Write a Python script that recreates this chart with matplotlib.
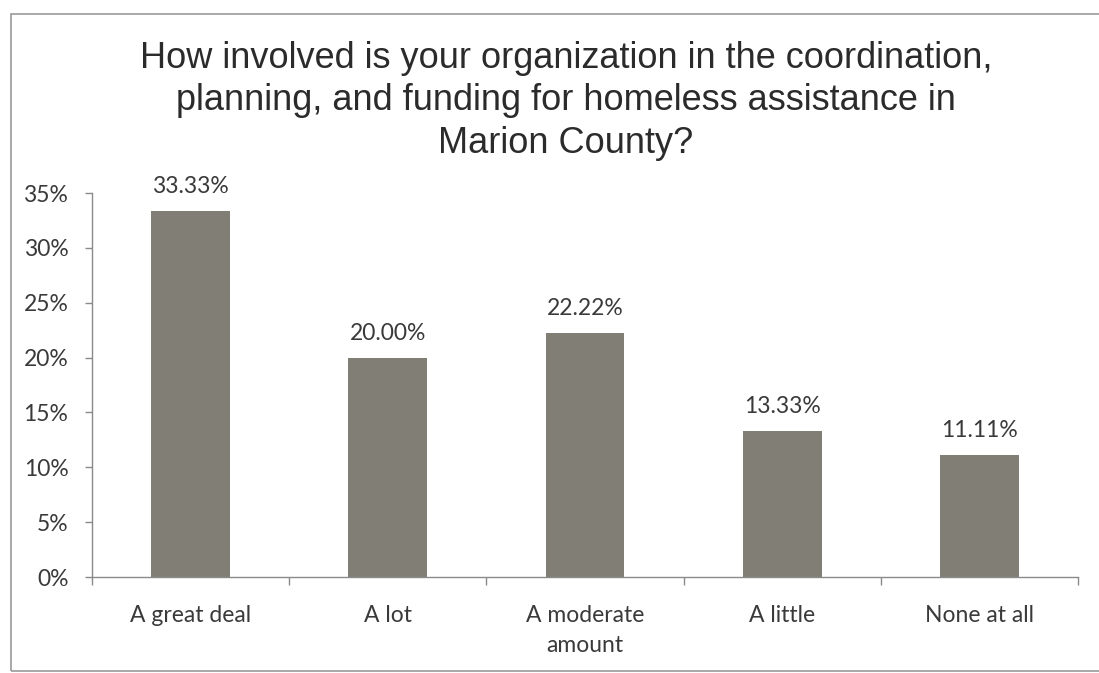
import matplotlib
matplotlib.use("Agg")
import matplotlib.pyplot as plt
from matplotlib.patches import Rectangle
from matplotlib.ticker import FuncFormatter

categories = ["A great deal", "A lot", "A moderate\namount", "A little", "None at all"]
values = [33.33, 20.00, 22.22, 13.33, 11.11]
y_ticks = [0, 5, 10, 15, 20, 25, 30, 35]
title = ("How involved is your organization in the coordination,\n"
         "planning, and funding for homeless assistance in\n"
         "Marion County?")

W, H = 1099, 673
fig = plt.figure(figsize=(W / 100, H / 100), dpi=100)
fig.patch.set_facecolor("white")

# chart frame (runs off the right edge)
fig.add_artist(Rectangle((11 / W, 1 - 671 / H), (1130 - 11) / W, (671 - 14) / H,
                         transform=fig.transFigure, fill=False,
                         edgecolor="#9a9a9a", linewidth=1.2))

ax = fig.add_axes([92 / W, 1 - 577 / H, (1078 - 92) / W, (577 - 193) / H])
x = list(range(len(categories)))
ax.bar(x, values, width=0.4, color="#817e75", zorder=2)
ax.set_xlim(-0.5, len(categories) - 0.5)
ax.set_ylim(0, 35)

tick_font = dict(family=["Lato", "DejaVu Sans"], size=16.5, color="#3a3a3a")

ax.set_yticks(y_ticks)
ax.yaxis.set_major_formatter(FuncFormatter(lambda v, _: f"{v:.0f}%"))
for lab in ax.get_yticklabels():
    lab.set_fontfamily(tick_font["family"])
    lab.set_fontsize(tick_font["size"])
    lab.set_color(tick_font["color"])
ax.tick_params(axis="y", length=5, width=1, color="#8a8a8a", pad=12)

# category boundaries carry the tick marks; labels sit at bar centres
ax.set_xticks([i - 0.5 for i in range(len(categories) + 1)])
ax.set_xticklabels([])
ax.tick_params(axis="x", length=6, width=1, color="#8a8a8a")
for i, c in enumerate(categories):
    ax.text(i, -2.55, c, ha="center", va="top", linespacing=1.55,
            fontfamily=tick_font["family"], fontsize=tick_font["size"],
            color=tick_font["color"])

for s in ["top", "right"]:
    ax.spines[s].set_visible(False)
for s in ["left", "bottom"]:
    ax.spines[s].set_color("#8a8a8a")
    ax.spines[s].set_linewidth(1)

for i, v in enumerate(values):
    ax.annotate(f"{v:.2f}%", (i, v), xytext=(0, 10), textcoords="offset points",
                ha="center", va="bottom",
                fontfamily=tick_font["family"], fontsize=tick_font["size"],
                color=tick_font["color"])

fig.text(566 / W, 1 - 101 / H, title, ha="center", va="center", linespacing=1.27,
         fontfamily=["Liberation Sans", "DejaVu Sans"], fontsize=26,
         color="#2b2b2b")

fig.savefig("out.png", dpi=100)
